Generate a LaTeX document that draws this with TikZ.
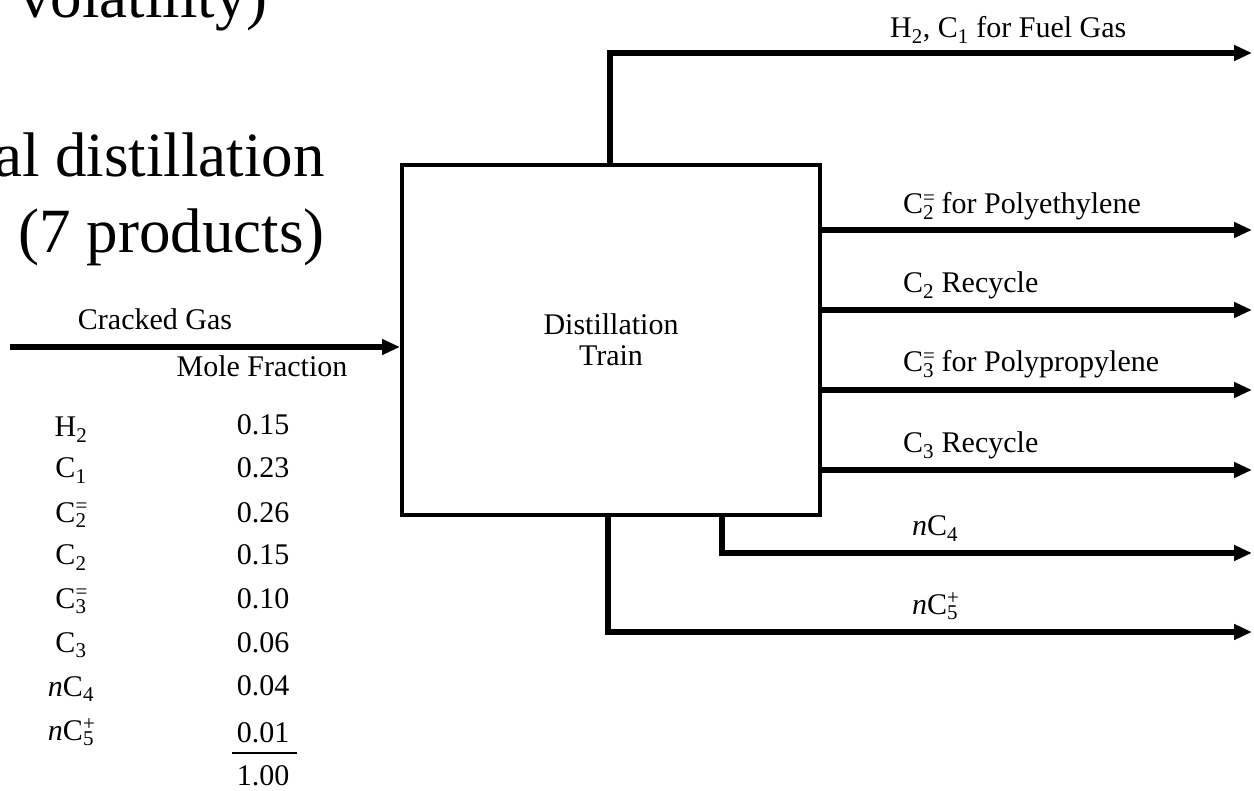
\documentclass[tikz,border=0pt]{standalone}
\usepackage{fontspec}
\setmainfont{Liberation Serif}
\usetikzlibrary{arrows.meta}
\newcommand{\Cps}[2]{C\rlap{\textsuperscript{#2}}\textsubscript{#1}}
\newcommand{\Cs}[1]{C\textsubscript{#1}}
\begin{document}
\begin{tikzpicture}[x=1pt,y=-1pt,
  flow/.style={line width=5.5pt,-{Triangle[length=18pt,width=15pt]}},
  lab/.style={font=\fontsize{30}{31}\selectfont,inner sep=0pt},
  big/.style={font=\fontsize{63}{70}\selectfont,inner sep=0pt},
  unit/.style={draw,line width=4pt,minimum width=418pt,minimum height=350pt,inner sep=0pt,align=center,font=\fontsize{30}{31}\selectfont}]
\useasboundingbox (0,0) rectangle (1254,791);
\clip (0,0) rectangle (1254,791);
% slide text
\node[big,anchor=base east] (t1) at (268,18) {volatility)};
\node[big,anchor=base east] (t2) at (325,177) {al distillation};
\node[big,anchor=base east] (t3) at (325,253) {(7 products)};
% unit
\node[unit] (train) at (611,340) {Distillation\\Train};
% feed
\coordinate (feed) at (10,347);
\draw[flow] (feed) -- (feed -| train.west);
\node[lab,anchor=base] (cg) at (155,330) {Cracked Gas};
% outputs
\coordinate (o1) at (1252,53);
\coordinate (o2) at (1252,230);
\coordinate (o3) at (1252,310);
\coordinate (o4) at (1252,390);
\coordinate (o5) at (1252,470);
\coordinate (o6) at (1252,553);
\coordinate (o7) at (1252,632);
\coordinate (b1) at ([xshift=210pt]train.north west);
\coordinate (b6) at ([xshift=322pt]train.south west);
\coordinate (b7) at ([xshift=208pt]train.south west);
\draw[flow] (b1) |- (o1);
\draw[flow] (train.east |- o2) -- (o2);
\draw[flow] (train.east |- o3) -- (o3);
\draw[flow] (train.east |- o4) -- (o4);
\draw[flow] (train.east |- o5) -- (o5);
\draw[flow] (b6) |- (o6);
\draw[flow] (b7) |- (o7);
% output labels
\node[lab,anchor=base west] (l1) at (890,38) {H\textsubscript{2}, \Cs{1} for Fuel Gas};
\node[lab,anchor=base west] (l2) at (903,214) {\Cps{2}{=} for Polyethylene};
\node[lab,anchor=base west] (l3) at (903,293) {\Cs{2} Recycle};
\node[lab,anchor=base west] (l4) at (903,372) {\Cps{3}{=} for Polypropylene};
\node[lab,anchor=base west] (l5) at (903,453) {\Cs{3} Recycle};
\node[lab,anchor=base west] (l6) at (912,536) {\textit{n}\Cs{4}};
\node[lab,anchor=base west] (l7) at (912,614) {\textit{n}\Cps{5}{+}};
% table
\node[lab,anchor=base] (mf) at (262,377) {Mole Fraction};
\node[lab,anchor=base] (s1) at (71,437) {H\textsubscript{2}};
\node[lab,anchor=base] (s2) at (71,478) {\Cs{1}};
\node[lab,anchor=base] (s3) at (71,522) {\Cps{2}{=}};
\node[lab,anchor=base] (s4) at (71,565) {\Cs{2}};
\node[lab,anchor=base] (s5) at (71,608) {\Cps{3}{=}};
\node[lab,anchor=base] (s6) at (71,652) {\Cs{3}};
\node[lab,anchor=base] (s7) at (71,696) {\textit{n}\Cs{4}};
\node[lab,anchor=base] (s8) at (71,740) {\textit{n}\Cps{5}{+}};
\node[lab,anchor=base] (v1) at (263,435) {0.15};
\node[lab,anchor=base] (v2) at (263,478) {0.23};
\node[lab,anchor=base] (v3) at (263,522) {0.26};
\node[lab,anchor=base] (v4) at (263,565) {0.15};
\node[lab,anchor=base] (v5) at (263,608) {0.10};
\node[lab,anchor=base] (v6) at (263,652) {0.06};
\node[lab,anchor=base] (v7) at (263,695) {0.04};
\node[lab,anchor=base] (v8) at (263,742) {0.01};
\node[lab,anchor=base] (v9) at (263,785) {1.00};
\draw[line width=2.5pt] (232,753) -- (297,753);
\end{tikzpicture}
\end{document}
